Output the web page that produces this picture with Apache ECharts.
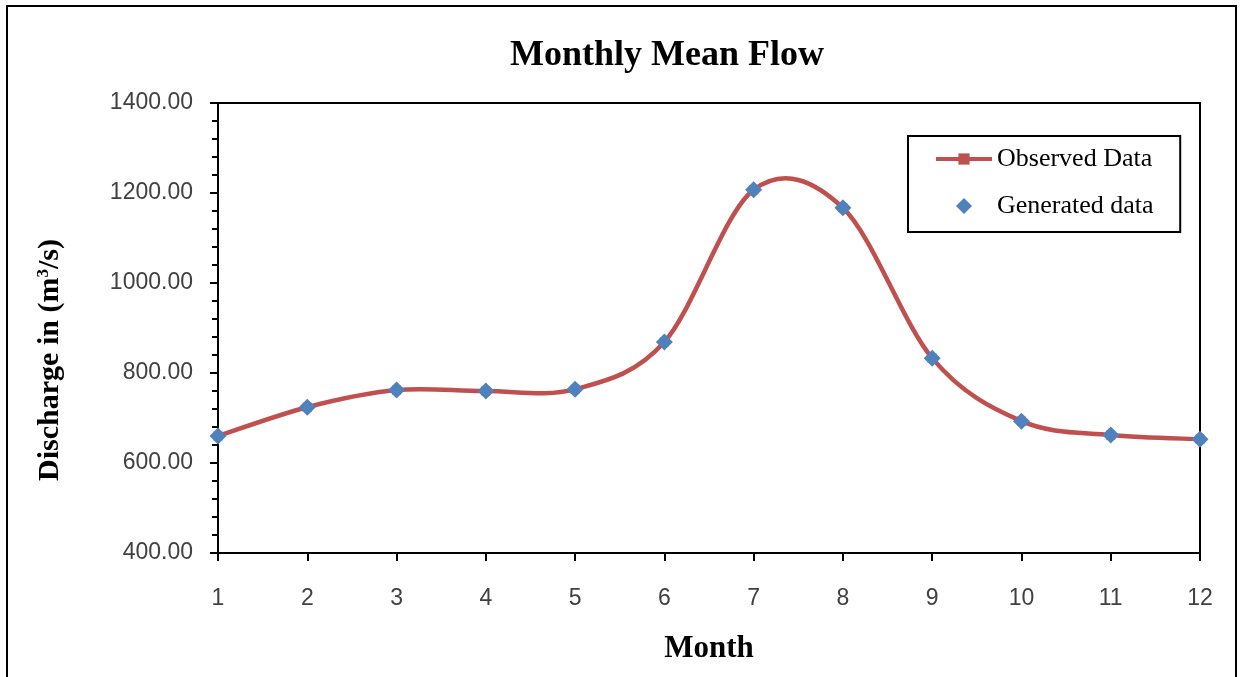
<!DOCTYPE html>
<html>
<head>
<meta charset="utf-8">
<script src="https://cdn.jsdelivr.net/npm/echarts@6/dist/echarts.min.js"></script>
<style>
html,body{margin:0;padding:0;background:#fff;}
#c{width:1240px;height:677px;}
</style>
</head>
<body>
<div id="c"></div>
<script>
const months = ['1','2','3','4','5','6','7','8','9','10','11','12'];
const observed = [660, 724, 762, 760, 764, 869, 1207, 1167, 833, 693, 662, 653];
const generated = [660, 724, 762, 760, 764, 869, 1207, 1167, 833, 693, 662, 653];
const yTicks = {min: 400, max: 1400, interval: 200};

const chart = echarts.init(document.getElementById('c'));
const serif = '"Liberation Serif", "Times New Roman", serif';
const sans = '"Liberation Sans", Arial, sans-serif';
const RED = '#C0504D', BLUE = '#4F81BD';

// smooth curve segment (Catmull-Rom style, like spreadsheet smoothing) between data points,
// positioned through the chart's own axes with api.coord
function renderSegment(params, api) {
  const i = params.dataIndex;
  const n = observed.length;
  if (i >= n - 1) return null;
  const p = j => api.coord([Math.max(0, Math.min(n - 1, j)), observed[Math.max(0, Math.min(n - 1, j))]]);
  const p0 = p(i - 1), p1 = p(i), p2 = p(i + 1), p3 = p(i + 2);
  return {
    type: 'bezierCurve',
    shape: {
      x1: p1[0], y1: p1[1], x2: p2[0], y2: p2[1],
      cpx1: p1[0] + (p2[0] - p0[0]) / 6, cpy1: p1[1] + (p2[1] - p0[1]) / 6,
      cpx2: p2[0] - (p3[0] - p1[0]) / 6, cpy2: p2[1] - (p3[1] - p1[1]) / 6
    },
    style: {fill: 'none', stroke: RED, lineWidth: 4.5, lineCap: 'round'}
  };
}

chart.setOption({
  backgroundColor: '#fff',
  animation: false,
  title: {
    text: 'Monthly Mean Flow',
    left: 662, top: 33, textAlign: 'center',
    textStyle: {fontFamily: serif, fontWeight: 'bold', fontSize: 36, color: '#000'}
  },
  graphic: [
    {type: 'rect', shape: {x: 7, y: 6, width: 1229, height: 690},
     style: {fill: 'none', stroke: '#000', lineWidth: 2}, silent: true},
    {type: 'text', x: 50, y: 360, rotation: Math.PI / 2,
     style: {text: 'Discharge in (m{sup|3}/s)', fill: '#000',
       font: 'bold 30px ' + serif, align: 'center', verticalAlign: 'middle',
       rich: {sup: {fontFamily: serif, fontWeight: 'bold', fontSize: 17, verticalAlign: 'top', padding: [0, 0, 12, 0]}}}}
  ],
  legend: [
    {
      left: 908, top: 136,
      padding: [10, 28, 60, 26],
      itemWidth: 56, itemHeight: 14,
      borderColor: '#000', borderWidth: 2,
      textStyle: {fontFamily: serif, fontSize: 26, color: '#000'},
      lineStyle: {width: 4, color: RED, opacity: 1},
      data: ['Observed Data']
    },
    {
      left: 910, top: 193,
      padding: [0, 0, 0, 26],
      itemWidth: 56, itemHeight: 20,
      textStyle: {fontFamily: serif, fontSize: 26, color: '#000'},
      data: ['Generated data']
    }
  ],
  grid: {left: 218, right: 40, top: 103, bottom: 124, show: true, borderColor: '#000', borderWidth: 2, backgroundColor: 'transparent'},
  xAxis: {
    type: 'category', data: months, boundaryGap: false,
    name: 'Month', nameLocation: 'middle', nameGap: 80,
    nameTextStyle: {fontFamily: serif, fontWeight: 'bold', fontSize: 31, color: '#000'},
    axisLine: {lineStyle: {color: '#000', width: 2}},
    axisTick: {alignWithLabel: true, length: 8, lineStyle: {color: '#000', width: 2}},
    axisLabel: {fontFamily: sans, fontSize: 23, color: '#404040', margin: 34},
    splitLine: {show: false}
  },
  yAxis: {
    type: 'value', min: yTicks.min, max: yTicks.max, interval: yTicks.interval,
    axisLine: {show: true, lineStyle: {color: '#000', width: 2}},
    axisTick: {show: true, length: 8, lineStyle: {color: '#000', width: 2}},
    minorTick: {show: true, splitNumber: 5, length: 6, lineStyle: {color: '#000', width: 2}},
    axisLabel: {fontFamily: sans, fontSize: 23, color: '#404040', margin: 25, formatter: v => v.toFixed(2)},
    splitLine: {show: false}
  },
  series: [
    {type: 'custom', name: 'curve', data: observed.map((v, i) => [i, v]),
     encode: {x: 0, y: 1}, renderItem: renderSegment, z: 2, silent: true},
    {name: 'Observed Data', type: 'line', data: observed,
     symbol: 'rect', symbolSize: 9,
     lineStyle: {color: RED, width: 0, opacity: 0},
     itemStyle: {color: RED}, z: 3},
    {name: 'Generated data', type: 'line', data: generated,
     symbol: 'diamond', symbolSize: 17,
     lineStyle: {width: 0, opacity: 0},
     itemStyle: {color: BLUE}, z: 4}
  ]
});
</script>
</body>
</html>
